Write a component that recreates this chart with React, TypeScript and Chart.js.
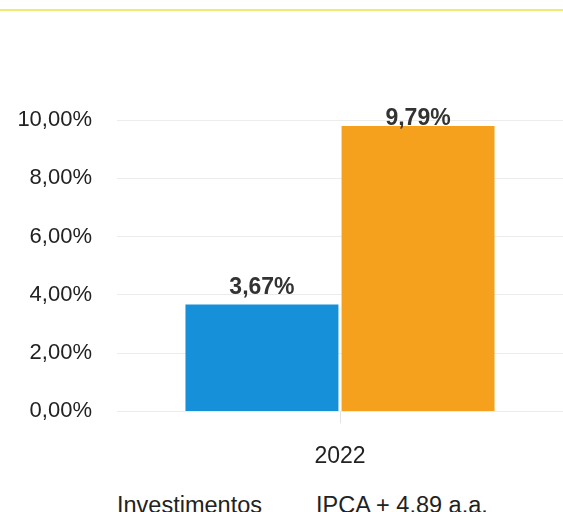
import React, { useEffect, useRef } from "react";
import { Chart, registerables } from "chart.js";

Chart.register(...registerables);

const categories = ["2022"];
const seriesNames = ["Investimentos", "IPCA + 4.89 a.a."];
const investimentos = [3.67];
const ipca = [9.79];
const yTickValues = [0, 2, 4, 6, 8, 10];
const seriesColors = ["#1690d8", "#f5a11d"];

const FONT = '"Liberation Sans", Arial, sans-serif';
const fmt = (v: number) => v.toFixed(2).replace(".", ",") + "%";

const valueLabels = {
  id: "valueLabels",
  afterDatasetsDraw(chart: any) {
    const { ctx, chartArea } = chart;
    ctx.save();
    ctx.font = `bold 23px ${FONT}`;
    ctx.fillStyle = "#333333";
    ctx.textAlign = "center";
    ctx.textBaseline = "alphabetic";
    chart.data.datasets.forEach((ds: any, i: number) => {
      const meta = chart.getDatasetMeta(i);
      meta.data.forEach((bar: any, j: number) => {
        const v = ds.data[j] as number;
        const y = Math.max(bar.y - 10, chartArea.top + 5);
        ctx.fillText(fmt(v), bar.x, y);
      });
    });
    ctx.restore();
  },
};

export default function App() {
  const canvasRef = useRef<HTMLCanvasElement | null>(null);

  useEffect(() => {
    if (!canvasRef.current) return;
    const chart = new Chart(canvasRef.current, {
      type: "bar",
      data: {
        labels: categories,
        datasets: [
          {
            label: seriesNames[0],
            data: investimentos,
            backgroundColor: seriesColors[0],
            categoryPercentage: 0.7,
            barPercentage: 0.98,
          },
          {
            label: seriesNames[1],
            data: ipca,
            backgroundColor: seriesColors[1],
            categoryPercentage: 0.7,
            barPercentage: 0.98,
          },
        ],
      },
      options: {
        animation: false,
        responsive: true,
        maintainAspectRatio: false,
        layout: { padding: { top: 120, left: 0, right: 0, bottom: 0 } },
        plugins: {
          legend: { display: false },
          tooltip: { enabled: false },
        },
        scales: {
          x: {
            offset: true,
            border: { display: false },
            grid: {
              offset: false,
              drawOnChartArea: false,
              drawTicks: true,
              tickLength: 12,
              color: "#e3e3e3",
            },
            ticks: {
              padding: 19,
              color: "#222222",
              font: { family: FONT, size: 23 },
            },
          },
          y: {
            min: 0,
            max: 10,
            border: { display: false },
            grid: { drawTicks: false, color: "#ececec", lineWidth: 1 },
            afterFit(scale: any) {
              scale.width = 117;
            },
            afterBuildTicks(scale: any) {
              scale.ticks = yTickValues.map((v) => ({ value: v }));
            },
            ticks: {
              padding: 25,
              color: "#222222",
              font: { family: FONT, size: 22 },
              callback: (v: any) => fmt(Number(v)),
            },
          },
        },
      },
      plugins: [valueLabels],
    });
    return () => chart.destroy();
  }, []);

  return (
    <div
      style={{
        position: "fixed",
        top: 0,
        left: 0,
        width: 563,
        height: 512,
        overflow: "hidden",
        background: "#ffffff",
      }}
    >
      <div
        style={{
          position: "absolute",
          top: 9,
          left: 0,
          width: 563,
          height: 2,
          background: "#f1ea72",
        }}
      />
      <div style={{ position: "absolute", top: 0, left: 0, width: 563, height: 489 }}>
        <canvas ref={canvasRef} />
      </div>
      <div
        style={{
          position: "absolute",
          top: 494,
          left: 117,
          display: "flex",
          gap: 54,
          fontFamily: FONT,
          fontSize: 23.5,
          lineHeight: "23.5px",
          color: "#222222",
          whiteSpace: "nowrap",
        }}
      >
        <span>{seriesNames[0]}</span>
        <span>{seriesNames[1]}</span>
      </div>
    </div>
  );
}
